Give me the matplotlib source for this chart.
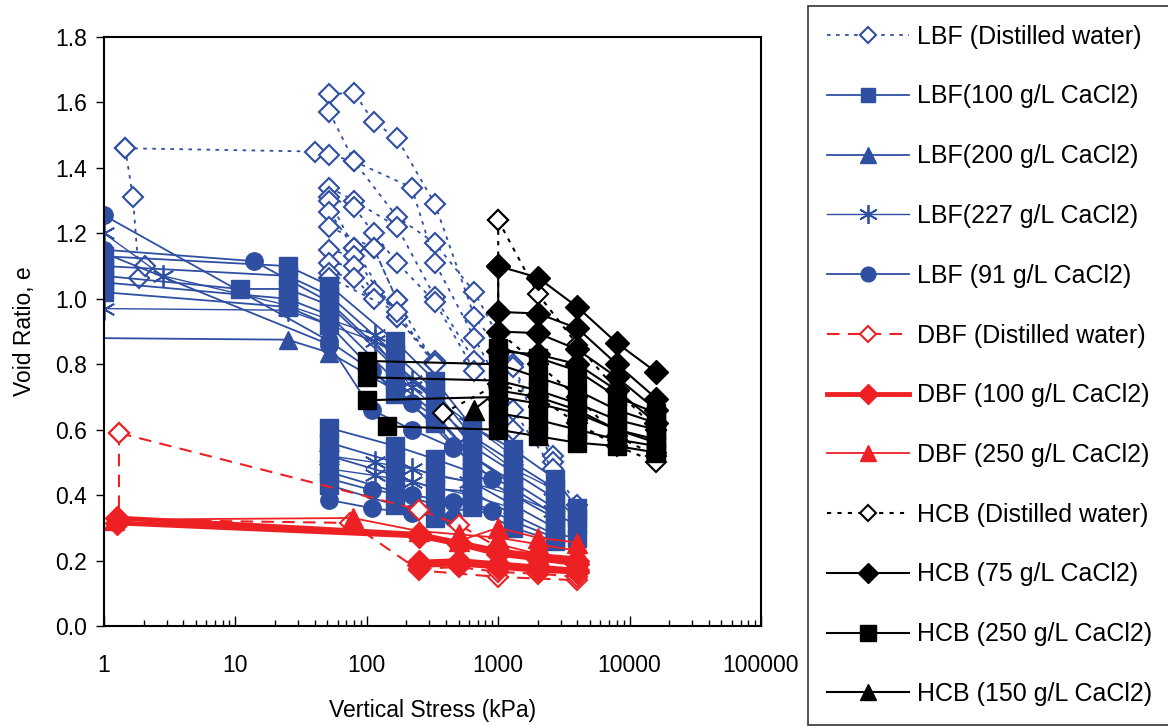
import numpy as np
import matplotlib
matplotlib.use('Agg')
import matplotlib.pyplot as plt

plt.rcParams['font.family'] = ['Liberation Sans', 'DejaVu Sans']

BLUE = '#2f4fa2'
RED = '#ed2024'

# ---- data: each series is a list of curves (stress kPa, void ratio) ----
# LBF distilled water
lbf_dw_x = [[1.45, 1.66, 1.85, 2.05],
            [1.45, 40, 52, 80, 170, 330, 660, 1300, 2600],
            [52, 80, 113, 170, 330, 660, 1300, 2600],
            [52, 80, 220, 330, 660, 1300, 2600, 4000],
            [52, 80, 170, 330, 660, 1300],
            [52, 80, 113, 170, 330, 660],
            [52, 80, 113, 170, 330],
            [52, 80, 170, 330],
            [52, 113, 170],
            [52, 80, 170, 330],
            [52, 80, 113],
            [52, 80, 113],
            [52, 170, 330]]
lbf_dw_y = [[1.46, 1.31, 1.065, 1.10],
            [1.46, 1.45, 1.44, 1.42, 1.25, 1.17, 1.02, 0.80, 0.52],
            [1.625, 1.63, 1.54, 1.49, 1.29, 0.945, 0.79, 0.50],
            [1.57, 1.42, 1.34, 1.11, 0.88, 0.66, 0.48, 0.37],
            [1.34, 1.30, 1.22, 1.005, 0.81, 0.60],
            [1.31, 1.28, 1.20, 1.11, 0.99, 0.78],
            [1.30, 1.155, 1.155, 0.995, 0.80],
            [1.265, 1.155, 0.945, 0.81],
            [1.22, 1.155, 0.995],
            [1.15, 1.13, 0.945, 0.80],
            [1.11, 1.10, 1.02],
            [1.08, 1.065, 1.00],
            [1.065, 0.96, 0.80]]

# LBF 100 g/L CaCl2
lbf100_x = [[1, 25, 52, 165, 330, 630, 1300, 2700, 4000],
            [1, 25, 52, 165, 330, 630, 1300, 2700],
            [1, 10.8, 25, 52, 165, 330, 630, 1300, 2700, 4000],
            [1, 25, 52, 165, 330, 630, 1300, 2700],
            [1, 25, 52, 165, 330, 630, 1300, 2700, 4000],
            [52, 165, 330, 630, 1300, 2700],
            [52, 165, 330, 630, 1300, 2700],
            [52, 165, 330, 630, 1300, 2700, 4000],
            [52, 165, 330, 630, 1300, 2700],
            [52, 165, 330, 630, 1300, 2700]]
lbf100_y = [[1.13, 1.10, 1.04, 0.87, 0.75, 0.61, 0.54, 0.45, 0.36],
            [1.10, 1.07, 1.01, 0.83, 0.72, 0.58, 0.50, 0.42],
            [1.07, 1.03, 1.03, 0.98, 0.79, 0.69, 0.55, 0.47, 0.39, 0.33],
            [1.05, 1.00, 0.95, 0.75, 0.65, 0.52, 0.44, 0.36],
            [1.02, 0.975, 0.92, 0.71, 0.62, 0.49, 0.42, 0.34, 0.31],
            [0.605, 0.55, 0.51, 0.47, 0.40, 0.33],
            [0.56, 0.50, 0.46, 0.44, 0.37, 0.30],
            [0.52, 0.46, 0.42, 0.41, 0.34, 0.28, 0.27],
            [0.47, 0.41, 0.37, 0.38, 0.32, 0.27],
            [0.43, 0.37, 0.33, 0.365, 0.30, 0.26]]

# LBF 200 g/L CaCl2
lbf200_x = [[0.8, 25, 52, 165, 330, 630, 1300]]
lbf200_y = [[0.88, 0.875, 0.835, 0.72, 0.64, 0.52, 0.43]]

# LBF 227 g/L CaCl2
lbf227_x = [[1, 2.8, 25, 115, 220, 600, 1300],
            [1, 25, 115, 220, 600, 1300, 2600],
            [52, 115, 220, 600, 1300, 2600],
            [52, 115, 220, 600, 1300]]
lbf227_y = [[1.20, 1.07, 0.98, 0.89, 0.75, 0.62, 0.52],
            [0.97, 0.965, 0.87, 0.73, 0.58, 0.48, 0.42],
            [0.52, 0.50, 0.48, 0.44, 0.40, 0.35],
            [0.48, 0.46, 0.44, 0.40, 0.36]]

# LBF 91 g/L CaCl2
lbf91_x = [[1, 52, 110, 220, 450, 900],
           [1, 13.8, 52, 165, 330],
           [1, 52, 110, 220, 450],
           [52, 110, 220, 450],
           [52, 110, 220, 450, 900]]
lbf91_y = [[1.255, 0.87, 0.78, 0.68, 0.55, 0.45],
           [1.15, 1.115, 0.99, 0.80, 0.70],
           [1.14, 0.86, 0.66, 0.60, 0.545],
           [0.385, 0.36, 0.345, 0.33],
           [0.45, 0.415, 0.40, 0.38, 0.35]]

# DBF distilled water
dbf_dw_x = [[1.3, 250, 500, 1000, 2000, 4000],
            [1.3, 1.3, 75, 250, 1000, 4000],
            [250, 500, 1000, 2000, 4000]]
dbf_dw_y = [[0.59, 0.355, 0.31, 0.24, 0.21, 0.19],
            [0.59, 0.325, 0.315, 0.17, 0.15, 0.14],
            [0.175, 0.18, 0.165, 0.16, 0.15]]

# DBF 100 g/L CaCl2
dbf100_x = [[1.25, 250, 500, 1000, 2000, 4000],
            [1.25, 250, 500, 1000, 2000, 4000],
            [250, 500, 1000, 2000, 4000],
            [250, 500, 1000, 2000, 4000]]
dbf100_y = [[0.33, 0.28, 0.255, 0.23, 0.215, 0.20],
            [0.315, 0.275, 0.25, 0.22, 0.205, 0.19],
            [0.195, 0.20, 0.19, 0.18, 0.17],
            [0.185, 0.19, 0.18, 0.17, 0.165]]

# DBF 250 g/L CaCl2
dbf250_x = [[1.2, 78, 250, 500, 1000, 2000, 4000],
            [500, 1000, 2000, 4000],
            [1000, 2000, 4000]]
dbf250_y = [[0.325, 0.33, 0.29, 0.28, 0.27, 0.25, 0.23],
            [0.26, 0.30, 0.27, 0.255],
            [0.25, 0.22, 0.21]]

# HCB distilled water
hcb_dw_x = [[1000, 2000, 4000, 8000, 16000],
            [1000, 1000, 2000, 4000, 8000, 16000],
            [380, 1000, 2000, 4000, 8000, 16000]]
hcb_dw_y = [[1.24, 1.015, 0.86, 0.72, 0.60],
            [1.24, 0.90, 0.80, 0.70, 0.58, 0.52],
            [0.65, 0.74, 0.70, 0.62, 0.55, 0.50]]

# HCB 75 g/L CaCl2
hcb75_x = [[1000, 2000, 4000, 8000, 16000],
           [1000, 1000, 2000, 4000, 8000, 16000],
           [1000, 2000, 4000, 8000, 16000],
           [1000, 2000, 4000, 8000, 16000]]
hcb75_y = [[1.10, 1.065, 0.975, 0.865, 0.775],
           [1.10, 0.96, 0.955, 0.91, 0.80, 0.695],
           [0.90, 0.895, 0.845, 0.76, 0.66],
           [0.84, 0.83, 0.80, 0.72, 0.62]]

# HCB 250 g/L CaCl2
hcb250_x = [[100, 1000, 2000, 4000, 8000, 16000],
            [100, 1000, 2000, 4000, 8000, 16000],
            [100, 1000, 2000, 4000, 8000, 16000],
            [142, 1000, 2000, 4000, 8000, 16000],
            [1000, 2000, 4000, 8000, 16000],
            [1000, 2000, 4000, 8000, 16000]]
hcb250_y = [[0.81, 0.80, 0.76, 0.72, 0.66, 0.62],
            [0.76, 0.75, 0.72, 0.68, 0.63, 0.60],
            [0.69, 0.70, 0.68, 0.65, 0.60, 0.57],
            [0.61, 0.60, 0.58, 0.56, 0.55, 0.53],
            [0.85, 0.82, 0.78, 0.70, 0.65],
            [0.65, 0.63, 0.60, 0.57, 0.55]]

# HCB 150 g/L CaCl2
hcb150_x = [[650, 1000, 2000, 4000, 8000, 16000]]
hcb150_y = [[0.66, 0.72, 0.70, 0.66, 0.60, 0.56]]

# ---- styles ----
series = [
    ('LBF (Distilled water)', lbf_dw_x, lbf_dw_y,
     dict(color=BLUE, ls=(0, (2, 3)), lw=1.3, marker='D', ms=10, mfc='white', mec=BLUE, mew=1.5)),
    ('LBF(100 g/L CaCl2)', lbf100_x, lbf100_y,
     dict(color=BLUE, ls='-', lw=1.3, marker='s', ms=12.5, mfc=BLUE, mec=BLUE)),
    ('LBF(200 g/L CaCl2)', lbf200_x, lbf200_y,
     dict(color=BLUE, ls='-', lw=1.3, marker='^', ms=13, mfc=BLUE, mec=BLUE)),
    ('LBF(227 g/L CaCl2)', lbf227_x, lbf227_y,
     dict(color=BLUE, ls='-', lw=1.0, marker=(6, 2, 0), ms=16, mec=BLUE, mew=1.3)),
    ('LBF (91 g/L CaCl2)', lbf91_x, lbf91_y,
     dict(color=BLUE, ls='-', lw=1.3, marker='o', ms=12.5, mfc=BLUE, mec=BLUE)),
    ('DBF (Distilled water)', dbf_dw_x, dbf_dw_y,
     dict(color=RED, ls=(0, (6, 4)), lw=1.5, marker='D', ms=10, mfc='white', mec=RED, mew=1.5)),
    ('DBF (100 g/L CaCl2)', dbf100_x, dbf100_y,
     dict(color=RED, ls='-', lw=3.5, marker='D', ms=12, mfc=RED, mec=RED)),
    ('DBF (250 g/L CaCl2)', dbf250_x, dbf250_y,
     dict(color=RED, ls='-', lw=1.3, marker='^', ms=14, mfc=RED, mec=RED)),
    ('HCB (Distilled water)', hcb_dw_x, hcb_dw_y,
     dict(color='black', ls=(0, (2, 3)), lw=1.5, marker='D', ms=10, mfc='white', mec='black', mew=1.5)),
    ('HCB (75 g/L CaCl2)', hcb75_x, hcb75_y,
     dict(color='black', ls='-', lw=1.5, marker='D', ms=12, mfc='black', mec='black')),
    ('HCB (250 g/L CaCl2)', hcb250_x, hcb250_y,
     dict(color='black', ls='-', lw=1.5, marker='s', ms=13, mfc='black', mec='black')),
    ('HCB (150 g/L CaCl2)', hcb150_x, hcb150_y,
     dict(color='black', ls='-', lw=1.5, marker='^', ms=14, mfc='black', mec='black')),
]

fig = plt.figure(figsize=(11.68, 7.26), dpi=100)
ax = fig.add_axes([104 / 1168, 100 / 726, 657 / 1168, 589 / 726])

handles = []
for label, xs, ys, st in series:
    for i, (x, y) in enumerate(zip(xs, ys)):
        ln, = ax.plot(x, y, label=label if i == 0 else '_nolegend_', **st)
        if i == 0:
            handles.append(ln)

ax.set_xscale('log')
ax.set_xlim(1, 100000)
ax.set_ylim(0, 1.8)
ax.set_yticks(np.arange(0, 1.81, 0.2))
ax.set_yticklabels(['%.1f' % v for v in np.arange(0, 1.81, 0.2)])
ax.set_xticks([1, 10, 100, 1000, 10000, 100000])
ax.set_xticklabels(['1', '10', '100', '1000', '10000', '100000'])
ax.tick_params(axis='y', direction='out', length=6, width=1, labelsize=16.5, pad=6)
ax.tick_params(axis='x', which='major', direction='in', length=7, width=1, labelsize=16.5, pad=20)
ax.tick_params(axis='x', which='minor', direction='in', length=4, width=1)
for s in ax.spines.values():
    s.set_linewidth(1.5)
ax.set_xlabel('Vertical Stress (kPa)', fontsize=16.5, labelpad=16)
ax.set_ylabel('Void Ratio, e', fontsize=16.5, labelpad=14)

# legend markers slightly smaller than the plotted ones
leg = fig.legend(handles=handles, loc='upper left', bbox_to_anchor=(808 / 1168, 1 - 6 / 726),
                 fontsize=18, frameon=True, fancybox=False, edgecolor='black',
                 handlelength=3.3, handletextpad=0.3, labelspacing=1.43, borderpad=0.75,
                 borderaxespad=0, markerscale=0.85)
leg.get_frame().set_linewidth(1.2)

fig.savefig('out.png', dpi=100)
